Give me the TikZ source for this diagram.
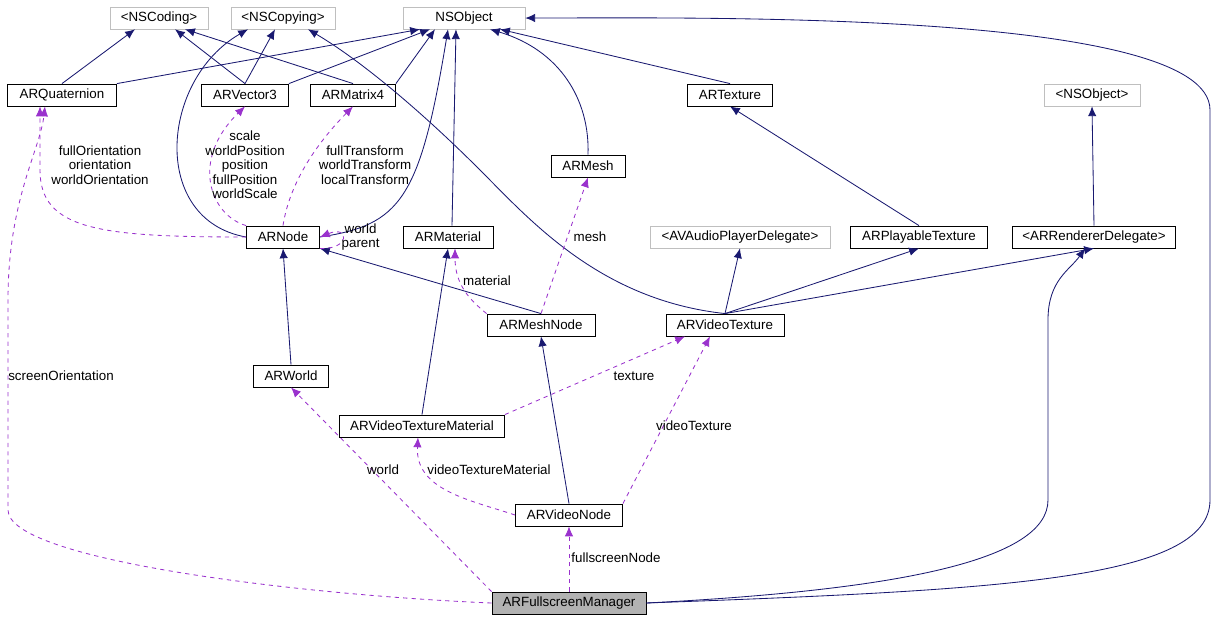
\documentclass[tikz,border=0pt]{standalone}
\usepackage{fontspec}
\setmainfont{Liberation Sans}
\usetikzlibrary{arrows.meta,positioning}
\definecolor{edgeblue}{HTML}{191970}
\definecolor{usepurple}{HTML}{9A32CD}
\begin{document}
\begin{tikzpicture}[x=0.025cm,y=-0.025cm,font=\fontsize{9.5}{10.3}\selectfont]
\tikzstyle{cls} = [draw, rectangle, semithick, minimum height=0.55cm, inner sep=1pt]
\tikzstyle{ext} = [draw=gray!50, rectangle, minimum height=0.55cm, inner sep=1pt]
\tikzstyle{inh} = [edgeblue, semithick, -{Latex[length=7pt,width=6pt]}]
\tikzstyle{use} = [usepurple, semithick, dashed, -{Latex[length=7pt,width=6pt]}]
\tikzstyle{lbl} = [black, align=center, inner sep=1pt]
\useasboundingbox (0,0) rectangle (1219,621);

% external classes
\node [ext, minimum width=98*0.025cm] (nscoding) at (159,18) {<NSCoding>};
\node [ext, minimum width=104*0.025cm] (nscopying) at (283,18) {<NSCopying>};
\node [ext, minimum width=122*0.025cm] (nsobject) at (464,18) {NSObject};
\node [ext, minimum width=96*0.025cm] (nsobjectp) at (1092,95) {<NSObject>};
\node [ext, minimum width=180*0.025cm] (audio) at (740,237) {<AVAudioPlayerDelegate>};

% classes
\node [cls, minimum width=109*0.025cm] (quat) at (62,95) {ARQuaternion};
\node [cls, minimum width=87*0.025cm] (vec) at (245,95) {ARVector3};
\node [cls, minimum width=85*0.025cm] (mat) at (353,95) {ARMatrix4};
\node [cls, minimum width=85*0.025cm] (tex) at (730,95) {ARTexture};
\node [cls, minimum width=74*0.025cm] (mesh) at (588,166) {ARMesh};
\node [cls, minimum width=73*0.025cm] (arnode) at (283,237) {ARNode};
\node [cls, minimum width=90*0.025cm] (material) at (448,237) {ARMaterial};
\node [cls, minimum width=137*0.025cm] (playable) at (919,237) {ARPlayableTexture};
\node [cls, minimum width=163*0.025cm] (renderer) at (1094,237) {<ARRendererDelegate>};
\node [cls, minimum width=108*0.025cm] (meshnode) at (541,325) {ARMeshNode};
\node [cls, minimum width=118*0.025cm] (vtex) at (725,325) {ARVideoTexture};
\node [cls, minimum width=75*0.025cm] (world) at (291,376) {ARWorld};
\node [cls, minimum width=165*0.025cm] (vtexmat) at (422,426) {ARVideoTextureMaterial};
\node [cls, minimum width=107*0.025cm] (vnode) at (569,515) {ARVideoNode};
\node [cls, fill=gray!60, minimum width=154*0.025cm] (manager) at (569,603) {ARFullscreenManager};

% inheritance
\draw [inh] (quat.north) -- (nscoding.south -| 135,0);
\draw [inh] (quat.north east) -- (nsobject.south -| 420,0);
\draw [inh] (vec.north) -- (nscoding.south -| 175,0);
\draw [inh] (vec.north) -- (nscopying.south -| 275,0);
\draw [inh] (vec.north east) -- (nsobject.south -| 430,0);
\draw [inh] (mat.north) -- (nscoding.south -| 185,0);
\draw [inh] (mat.north east) -- (nsobject.south -| 435,0);
\draw [inh] (arnode.west) .. controls (150,220) and (160,80) .. (nscopying.south -| 248,0);
\draw [inh] (arnode.east) .. controls (400,225) and (420,200) .. (nsobject.south -| 448,0);
\draw [inh] (material.north -| 452,0) -- (nsobject.south -| 456,0);
\draw [inh] (mesh.north) .. controls (590,100) and (560,50) .. (nsobject.south -| 490,0);
\draw [inh] (tex.north) -- (nsobject.south -| 500,0);
\draw [inh] (vtex.north) .. controls (600,300) and (530,220) .. (480,170) .. controls (420,110) and (360,60) .. (nscopying.south -| 308,0);
\draw [inh] (playable.north) -- (tex.south);
\draw [inh] (vtex.north) -- (audio.south);
\draw [inh] (vtex.north) -- (playable.south);
\draw [inh] (vtex.north) -- (renderer.south);
\draw [inh] (renderer.north) -- (nsobjectp.south);
\draw [inh] (meshnode.north) -- (arnode.south east);
\draw [inh] (world.north) -- (arnode.south);
\draw [inh] (vtexmat.north) -- (material.south);
\draw [inh] (vnode.north) -- (meshnode.south);
\draw [inh] (manager.east) .. controls (900,590) and (1048,560) .. (1048,500) -- (1048,320) .. controls (1048,280) and (1070,270) .. (renderer.south -| 1085,0);
\draw [inh] (manager.east) .. controls (1000,590) and (1210,580) .. (1210,500) -- (1210,110) .. controls (1210,10) and (700,18) .. (nsobject.east);

% usage
\draw [use] (arnode.west) .. controls (100,237) and (40,230) .. (40,170) -- (quat.south -| 40,0);
\node [lbl] at (100,165) {fullOrientation\\orientation\\worldOrientation};
\draw [use] (arnode.north west) .. controls (210,215) and (190,160) .. (vec.south);
\node [lbl] at (245,165) {scale\\worldPosition\\position\\fullPosition\\worldScale};
\draw [use] (arnode.north) .. controls (290,180) and (320,140) .. (mat.south);
\node [lbl] at (365,165) {fullTransform\\worldTransform\\localTransform};
\draw [use] (arnode.south east) .. controls (350,250) and (350,225) .. (arnode.east);
\node [lbl, anchor=west] at (340,237) {world\\parent};
\draw [use] (meshnode.north west) .. controls (470,300) and (455,285) .. (material.south -| 455,0);
\node [lbl] at (487,281) {material};
\draw [use] (meshnode.north) -- (mesh.south);
\node [lbl] at (590,237) {mesh};
\draw [use] (vtexmat.north east) -- (vtex.south -| 685,0);
\node [lbl] at (634,376) {texture};
\draw [use] (vnode.north east) -- (vtex.south -| 710,0);
\node [lbl] at (694,426) {videoTexture};
\draw [use] (vnode.west) .. controls (470,500) and (415,490) .. (vtexmat.south -| 418,0);
\node [lbl] at (489,470) {videoTextureMaterial};
\draw [use] (manager.north west) -- (world.south);
\node [lbl] at (383,470) {world};
\draw [use] (manager.north) -- (vnode.south);
\node [lbl] at (616,558) {fullscreenNode};
\draw [use] (manager.west) .. controls (300,595) and (8,560) .. (8,510) -- (8,300) .. controls (8,200) and (40,150) .. (quat.south -| 45,0);
\node [lbl] at (61,376) {screenOrientation};
\end{tikzpicture}
\end{document}
